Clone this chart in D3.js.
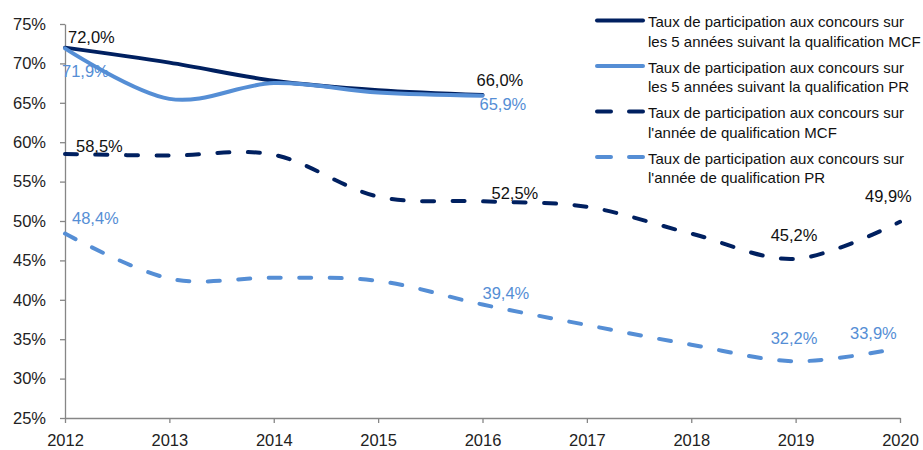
<!DOCTYPE html>
<html>
<head>
<meta charset="utf-8">
<script src="https://cdn.jsdelivr.net/npm/d3@7"></script>
<style>
  body { margin: 0; background: #fff; }
  text { font-family: "Liberation Sans", Arial, sans-serif; }
</style>
</head>
<body>
<div id="chart"></div>
<script>
// years on the x axis
var years = [2012, 2013, 2014, 2015, 2016, 2017, 2018, 2019, 2020];
var yTicks = [25, 30, 35, 40, 45, 50, 55, 60, 65, 70, 75];

// series values (%)
var mcf5ans = [72.0, 70.1, 67.8, 66.6, 66.0];
var pr5ans = [71.9, 65.5, 67.5, 66.3, 65.9];
var mcfAnnee = [58.5, 58.3, 58.4, 53.1, 52.5, 51.8, 48.4, 45.2, 49.9];
var prAnnee = [48.4, 42.7, 42.8, 42.4, 39.4, 36.8, 34.3, 32.2, 33.9];

var seriesNames = [
  ["Taux de participation aux concours sur", "les 5 années suivant la qualification MCF"],
  ["Taux de participation aux concours sur", "les 5 années suivant la qualification PR"],
  ["Taux de participation aux concours sur", "l'année de qualification MCF"],
  ["Taux de participation aux concours sur", "l'année de qualification PR"]
];

// which points carry a value label: [series, year index]
var labelled = [
  [0, 0], [0, 4],
  [1, 0], [1, 4],
  [2, 0], [2, 4], [2, 7], [2, 8],
  [3, 0], [3, 4], [3, 7], [3, 8]
];

;(function(){

  // ---- layout / style ----
  var w = 923, h = 450;
  var padL = 65, padR = 900, padT = 24, padB = 418;
  var dark = "#002060", light = "#558ED5";
  var styles = [
    {color: dark, dash: null},
    {color: light, dash: null},
    {color: dark, dash: "12,18.5"},
    {color: light, dash: "12,18.5"}
  ];
  // label offsets from their point, same order as labelled
  var labelOffsets = [
    [3, -4.5], [-6, -9],
    [-3, 28.5], [-3, 14.3],
    [11, -2], [9, -2], [-25, -18], [-35, -20],
    [7, -9.6], [0, -5.5], [-25, -17.3], [-50, -9]
  ];

  var allSeries = [mcf5ans, pr5ans, mcfAnnee, prAnnee];
  var fr = d3.formatLocale({decimal: ",", thousands: " ", grouping: [3], currency: ["", " €"]});
  var fmtLabel = function(v) { return fr.format(".1f")(v) + "%"; };

  var svg = d3.select("#chart").append("svg")
    .attr("width", w)
    .attr("height", h);

  var x = d3.scaleLinear().domain([2012, 2020]).range([padL, padR]);
  var y = d3.scaleLinear().domain([25, 75]).range([padB, padT]);

  // y axis
  svg.append("g")
    .attr("transform", "translate(" + padL + ",0)")
    .call(d3.axisLeft(y).tickValues(yTicks).tickFormat(function(d){ return d + "%"; })
      .tickSizeInner(5).tickSizeOuter(0).tickPadding(14));

  // x axis
  svg.append("g")
    .attr("transform", "translate(0," + padB + ")")
    .call(d3.axisBottom(x).tickValues(years).tickFormat(d3.format("d"))
      .tickSizeInner(5).tickSizeOuter(0).tickPadding(11));

  svg.selectAll(".domain, .tick line").attr("stroke", "#868686").attr("stroke-width", 1.3);
  svg.selectAll(".tick text").attr("font-size", "16.5px").attr("fill", "#222")
    .style("font-family", "'Liberation Sans', Arial, sans-serif");

  // lines
  var line = d3.line()
    .x(function(d, i){ return x(years[i]); })
    .y(function(d){ return y(d); })
    .curve(d3.curveCardinal.tension(0));

  allSeries.forEach(function(s, k){
    svg.append("path")
      .datum(s)
      .attr("d", line)
      .attr("fill", "none")
      .attr("stroke", styles[k].color)
      .attr("stroke-width", 4)
      .attr("stroke-linecap", "round")
      .attr("stroke-dasharray", styles[k].dash);
  });

  // value labels
  svg.selectAll("text.vlabel")
    .data(labelled)
    .enter().append("text")
    .attr("class", "vlabel")
    .attr("x", function(d, i){ return x(years[d[1]]) + labelOffsets[i][0]; })
    .attr("y", function(d, i){ return y(allSeries[d[0]][d[1]]) + labelOffsets[i][1]; })
    .attr("font-size", "16.5px")
    .attr("fill", function(d){ return (d[0] % 2 === 0) ? "#111" : light; })
    .text(function(d){ return fmtLabel(allSeries[d[0]][d[1]]); });

  // legend
  var legend = svg.append("g").attr("transform", "translate(597,20.5)");
  var items = legend.selectAll("g")
    .data(seriesNames)
    .enter().append("g")
    .attr("transform", function(d, i){ return "translate(0," + (i * 45.5) + ")"; });

  items.append("line")
    .attr("x1", 0).attr("x2", 46)
    .attr("stroke", function(d, i){ return styles[i].color; })
    .attr("stroke-width", 4)
    .attr("stroke-linecap", "round")
    .attr("stroke-dasharray", function(d, i){ return styles[i].dash ? "14,18" : null; });

  items.append("text")
    .attr("font-size", "15px")
    .attr("fill", "#111")
    .selectAll("tspan")
    .data(function(d){ return d; })
    .enter().append("tspan")
    .attr("x", 51)
    .attr("y", function(d, j){ return 6.5 + j * 19.5; })
    .text(function(d){ return d; });
})();
</script>
</body>
</html>
